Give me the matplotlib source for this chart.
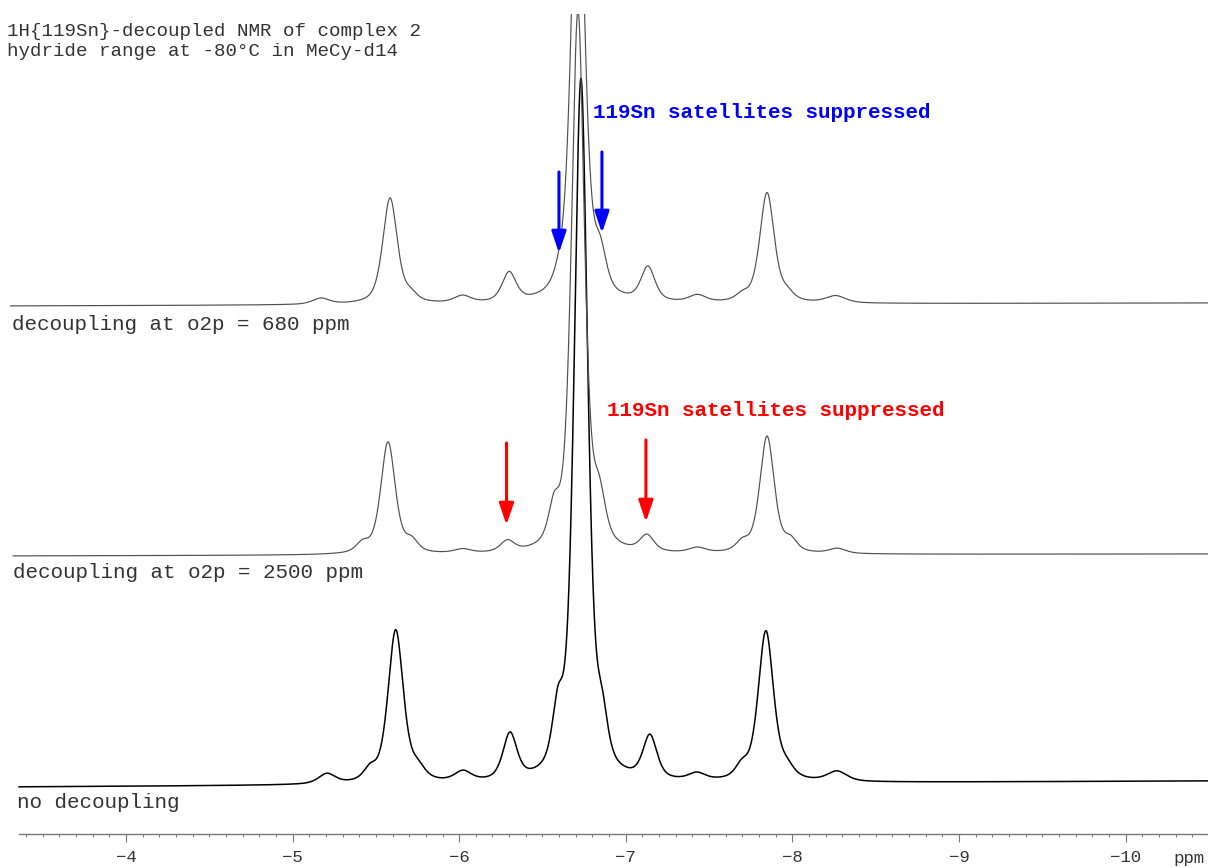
import numpy as np
import matplotlib
matplotlib.use("Agg")
import matplotlib.pyplot as plt
from matplotlib.ticker import FixedLocator

FONT = ["Liberation Mono", "DejaVu Sans Mono"]
plt.rcParams["font.family"] = FONT

# ---------------- data (ppm, intensity in plot units) ----------------
tick_ppm = [-4, -5, -6, -7, -8, -9, -10]

title_lines = ["1H{119Sn}-decoupled NMR of complex 2",
               "hydride range at -80°C in MeCy-d14"]
trace_labels = ["decoupling at o2p = 680 ppm",
                "decoupling at o2p = 2500 ppm",
                "no decoupling"]
note_text = "119Sn satellites suppressed"

# top trace: decoupling at o2p = 680 ppm
top_pos = [-5.17, -5.585, -5.71, -6.02, -6.30, -6.605, -6.713, -6.845, -7.133, -7.43, -7.70, -7.848, -7.97, -8.26]
top_amp = [6, 106, 7, 7, 29, 11, 470, 38, 34, 7, 6, 110, 7, 7]
top_hw = [0.06, 0.052, 0.045, 0.06, 0.05, 0.04, 0.048, 0.045, 0.05, 0.06, 0.045, 0.052, 0.045, 0.07]
top_base = [528, 531]

# middle trace: decoupling at o2p = 2500 ppm
mid_pos = [-5.42, -5.573, -5.714, -6.02, -6.29, -6.57, -6.713, -6.84, -7.127, -7.43, -7.70, -7.848, -7.99, -8.27]
mid_amp = [9, 112, 11, 4, 11, 34, 540, 44, 16, 5, 9, 117, 11, 5]
mid_hw = [0.045, 0.052, 0.045, 0.06, 0.05, 0.04, 0.046, 0.045, 0.05, 0.06, 0.045, 0.052, 0.045, 0.06]
mid_base = [278, 280]

# bottom trace: no decoupling
bot_pos = [-5.206, -5.465, -5.619, -5.753, -6.023, -6.305, -6.593, -6.731, -6.857, -7.145, -7.427, -7.697, -7.841, -7.968, -8.268]
bot_amp = [10, 11, 153, 11, 10, 46, 54, 700, 44, 43, 7, 12, 150, 10, 10]
bot_hw = [0.06, 0.045, 0.055, 0.05, 0.06, 0.05, 0.04, 0.048, 0.04, 0.05, 0.06, 0.045, 0.055, 0.05, 0.07]
bot_base = [47, 53]

trace_start = [-3.304, -3.322, -3.358]
x_end = -10.495

# arrows (ppm, tail y, tip y)
blue_arrow_ppm = [-6.599, -6.857]
blue_arrow_tail = [662, 682]
blue_arrow_tip = [581, 601]
red_arrow_ppm = [-6.284, -7.121]
red_arrow_tail = [391, 394]
red_arrow_tip = [309, 312]


def pvoigt(x, pos, amp, hw, eta=0.55):
    y = np.zeros_like(x)
    for p, a, w in zip(pos, amp, hw):
        d = ((x - p) / w) ** 2
        y += a * (eta / (1.0 + d) + (1.0 - eta) * np.exp(-np.log(2.0) * d))
    return y


W, H = 1208, 868
fig = plt.figure(figsize=(W / 100, H / 100), dpi=100)
ax = fig.add_axes([10 / W, (H - 834) / H, (W - 10) / W, (834 - 14) / H])
ax.set_xlim(-3.3037, x_end)
ax.set_ylim(0, 820)

traces = [
    (top_pos, top_amp, top_hw, top_base, trace_start[0], "#505050", 0.85),
    (mid_pos, mid_amp, mid_hw, mid_base, trace_start[1], "#505050", 0.85),
    (bot_pos, bot_amp, bot_hw, bot_base, trace_start[2], "black", 1.1),
]
for pos, amp, hw, base, x0, col, lw in traces[::-1]:
    x = np.linspace(x0, x_end, 8000)
    frac = (x - x0) / (x_end - x0)
    baseline = base[0] + (base[1] - base[0]) * frac
    ax.plot(x, baseline + pvoigt(x, pos, amp, hw), color=col, lw=lw)

# axis styling
for s in ["top", "left", "right"]:
    ax.spines[s].set_visible(False)
ax.spines["bottom"].set_bounds(-3.358, x_end)
ax.spines["bottom"].set_color("#777777")
ax.spines["bottom"].set_linewidth(1.0)
ax.set_yticks([])
ax.xaxis.set_major_locator(FixedLocator(tick_ppm))
ax.xaxis.set_minor_locator(FixedLocator(np.round(np.arange(-3.4, -10.45, -0.1), 1)))
ax.tick_params(axis="x", which="major", length=5.5, width=0.8, color="#777777",
               direction="out", labelsize=12.5, pad=6, labelcolor="#333333")
ax.tick_params(axis="x", which="minor", length=2.5, width=0.7, color="#777777",
               direction="out")

fig.text(1173 / W, 1 - 859 / H, "ppm", ha="left", va="center", fontsize=12.5, color="#333333")

# texts
fig.text(7 / W, 1 - 32 / H, title_lines[0], ha="left", va="center", fontsize=13.8, color="#333333")
fig.text(7 / W, 1 - 52 / H, title_lines[1], ha="left", va="center", fontsize=13.8, color="#333333")
fig.text(12 / W, 1 - 324 / H, trace_labels[0], ha="left", va="center", fontsize=15, color="#333333")
fig.text(13 / W, 1 - 573 / H, trace_labels[1], ha="left", va="center", fontsize=15, color="#333333")
fig.text(17 / W, 1 - 803 / H, trace_labels[2], ha="left", va="center", fontsize=15, color="#333333")
fig.text(593 / W, 1 - 113 / H, note_text, ha="left", va="center", fontsize=15,
         fontweight="bold", color="#0000ff")
fig.text(607 / W, 1 - 410 / H, note_text, ha="left", va="center", fontsize=15,
         fontweight="bold", color="#ff0000")

for xs, tails, tips, col in [(blue_arrow_ppm, blue_arrow_tail, blue_arrow_tip, "#0000ff"),
                             (red_arrow_ppm, red_arrow_tail, red_arrow_tip, "#ff0000")]:
    for xp, yt, yh in zip(xs, tails, tips):
        ax.annotate("", xy=(xp, yh), xytext=(xp, yt),
                    arrowprops=dict(arrowstyle="-|>,head_length=0.65,head_width=0.22",
                                    mutation_scale=20, color=col, lw=2.2,
                                    shrinkA=0, shrinkB=0))

fig.savefig("out.png", dpi=100)
